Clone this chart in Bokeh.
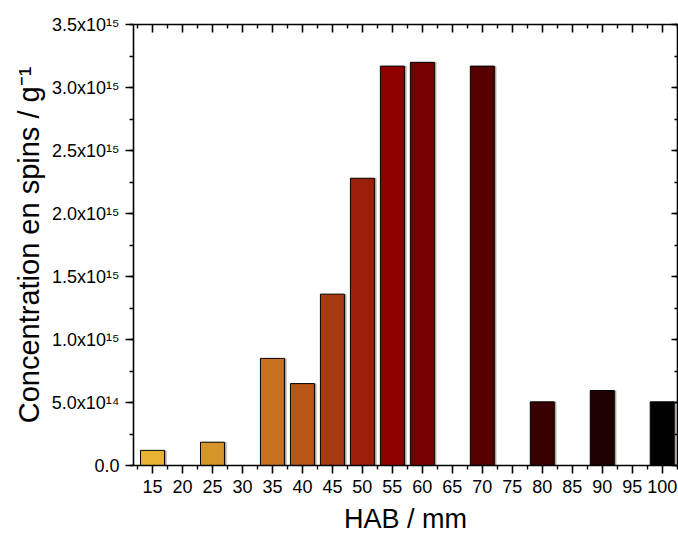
from bokeh.plotting import figure
from bokeh.models import ColumnDataSource, LinearAxis, FixedTicker, Range1d
from bokeh.transform import dodge
from bokeh.embed import file_html
from bokeh.resources import INLINE

# ---- data ----
hab = [15, 25, 35, 40, 45, 50, 55, 60, 70, 80, 90, 100]
conc = [1.2e14, 1.85e14, 8.5e14, 6.5e14, 1.36e15, 2.28e15, 3.17e15, 3.20e15,
        3.17e15, 5.05e14, 5.95e14, 5.05e14]
bar_colors = ["#E8B232", "#D6952A", "#C87020", "#BA5518", "#A83A12", "#9A1E08",
              "#8E0000", "#740000", "#560000", "#380000", "#1E0000", "#000000"]
x_ticks = list(range(15, 101, 5))
x_minor = [12.5 + 5 * i for i in range(19)]
y_ticks = [0.0, 0.5e15, 1.0e15, 1.5e15, 2.0e15, 2.5e15, 3.0e15, 3.5e15]
y_minor = [0.25e15 * i for i in range(15)]
y_tick_labels = ["0.0", "5.0x10¹⁴", "1.0x10¹⁵", "1.5x10¹⁵", "2.0x10¹⁵",
                 "2.5x10¹⁵", "3.0x10¹⁵", "3.5x10¹⁵"]

src = ColumnDataSource(dict(x=hab, top=conc, color=bar_colors))

FONT = "Liberation Sans"

p = figure(frame_width=544, frame_height=441, output_backend="svg",
           toolbar_location=None,
           x_range=Range1d(11.83, 102.55), y_range=Range1d(0, 3.5e15),
           x_axis_location=None, y_axis_location=None,
           min_border_left=133, min_border_top=24, min_border_right=1,
           min_border_bottom=70)
p.xgrid.visible = False
p.ygrid.visible = False
p.outline_line_color = None
p.background_fill_color = "white"
p.border_fill_color = "white"

# bars with a slight shadow
p.vbar(x=dodge("x", 0.35, range=p.x_range), top="top", width=4, bottom=0,
       source=src, fill_color="#6b5a45", fill_alpha=0.55, line_color=None)
p.vbar(x="x", top="top", width=4, bottom=0, source=src,
       fill_color="color", line_color="black", line_width=1)

def style(ax, tin, tout, mtin, mtout):
    ax.axis_line_color = "black"
    ax.axis_line_width = 1.6
    ax.major_tick_line_color = "black"
    ax.major_tick_line_width = 1.6
    ax.minor_tick_line_color = "black"
    ax.minor_tick_line_width = 1.4
    ax.major_tick_in = tin
    ax.major_tick_out = tout
    ax.minor_tick_in = mtin
    ax.minor_tick_out = mtout
    ax.major_label_text_color = "black"
    ax.axis_label_text_color = "black"

xt = FixedTicker(ticks=x_ticks, minor_ticks=x_minor)
yt = FixedTicker(ticks=y_ticks, minor_ticks=y_minor)

xb = LinearAxis(ticker=xt, axis_label="HAB / mm")
style(xb, 0, 8, 0, 4)
xb.major_label_text_font = FONT
xb.major_label_text_font_size = "18px"
xb.major_label_standoff = 6
xb.axis_label_text_font = FONT
xb.axis_label_text_font_size = "27px"
xb.axis_label_text_font_style = "normal"
xb.axis_label_standoff = 8
p.add_layout(xb, "below")

yl = LinearAxis(ticker=yt, axis_label="Concentration en spins / g⁻¹")
style(yl, 0, 8, 0, 4)
yl.major_label_overrides = {t: s for t, s in zip(y_ticks, y_tick_labels)}
yl.major_label_text_font = FONT
yl.major_label_text_font_size = "18px"
yl.major_label_standoff = 6
yl.axis_label_text_font = FONT
yl.axis_label_text_font_size = "29px"
yl.axis_label_text_font_style = "normal"
yl.axis_label_standoff = 4
p.add_layout(yl, "left")

xtop = LinearAxis(ticker=xt)
style(xtop, 8, 0, 4, 0)
xtop.major_label_overrides = {t: "" for t in x_ticks}
xtop.major_label_standoff = 0
p.add_layout(xtop, "above")

yr = LinearAxis(ticker=yt)
style(yr, 6, 0, 3, 0)
yr.major_label_overrides = {t: "" for t in y_ticks}
yr.major_label_standoff = 0
p.add_layout(yr, "right")

open("out.html", "w").write(file_html(p, INLINE))
